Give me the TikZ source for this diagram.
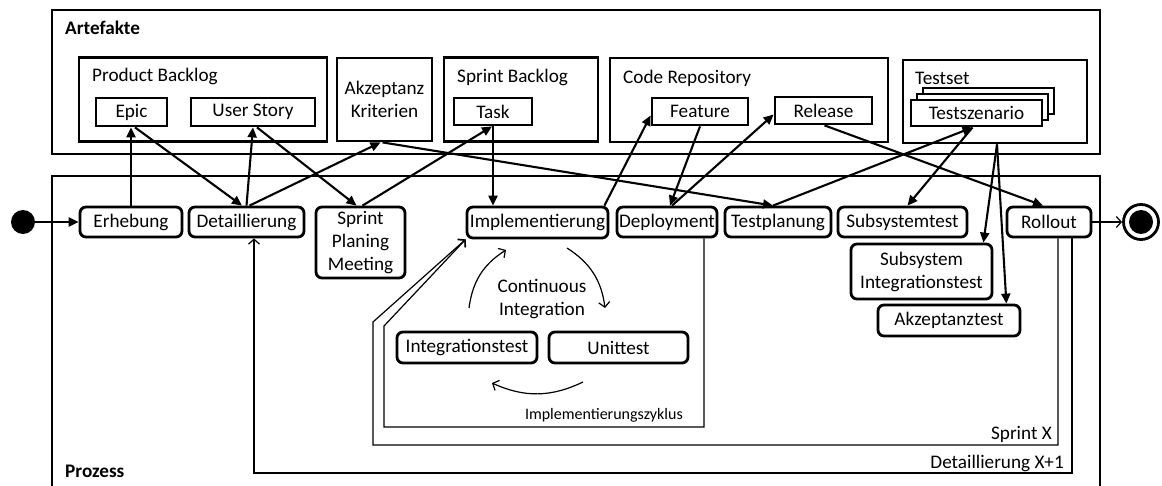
\documentclass[tikz,border=0pt]{standalone}
\usepackage{fontspec}
\setmainfont{Carlito}
\usetikzlibrary{arrows.meta,calc}
\begin{document}
\begin{tikzpicture}[x=1pt,y=-1pt,
  font=\fontsize{19.2}{23}\selectfont,
  frame/.style={draw,line width=2.8pt,inner sep=0pt},
  art/.style={draw,line width=2.8pt,fill=white,inner sep=0pt,align=center},
  act/.style={draw,line width=2.8pt,rounded corners=6pt,inner sep=0pt,align=center,fill=white},
  lbl/.style={anchor=west,inner sep=0pt},
  conn/.style={line width=2.1pt,-{Triangle[length=10pt,width=9pt]}},
  thinl/.style={line width=1.2pt},
  barb/.style={-{Straight Barb[length=5pt,width=11pt,line width=1.2pt]}},
]
\useasboundingbox (0,0) rectangle (1162,486);

% ---------- Artefakte ----------
\node[frame,minimum width=1048pt,minimum height=144pt] (artf) at (576,82) {};
\node[lbl,font=\fontsize{19.2}{23}\selectfont\bfseries] (artl) at (65,28) {Artefakte};

\node[frame,minimum width=248pt,minimum height=84pt] (pb) at (203,99.5) {};
\node[lbl] (pbl) at (92,76) {Product Backlog};
\node[art,minimum width=71pt,minimum height=28pt] (epic) at (131.5,112) {Epic};
\node[art,minimum width=124pt,minimum height=28pt] (us) at (253,112) {User Story};

\node[art,minimum width=95pt,minimum height=83pt] (akz) at (384.5,99.5) {Akzeptanz\\Kriterien};

\node[frame,minimum width=154pt,minimum height=84pt] (sb) at (521,99.5) {};
\node[lbl] (sbl) at (457,77) {Sprint Backlog};
\node[art,minimum width=78pt,minimum height=27pt] (task) at (493,111.5) {Task};

\node[frame,minimum width=278pt,minimum height=84pt] (cr) at (749,100) {};
\node[lbl] (crl) at (623,78) {Code Repository};
\node[art,minimum width=96pt,minimum height=27pt] (feat) at (700,111.5) {Feature};
\node[art,minimum width=97pt,minimum height=27pt] (rel) at (823.5,110.5) {Release};

\node[frame,minimum width=184pt,minimum height=83pt] (tset) at (995,101.5) {};
\node[lbl] (tsetl) at (915,78) {Testset};
\node[art,line width=2.3pt,minimum width=131pt,minimum height=26pt] (ts3) at (988.5,101) {};
\node[art,line width=2.3pt,minimum width=131pt,minimum height=26pt] (ts2) at (982.5,107) {};
\node[art,minimum width=131pt,minimum height=26pt] (ts) at (976.5,113) {Testszenario};

% ---------- Prozess ----------
\node[frame,minimum width=1048pt,minimum height=330pt] (proz) at (576,341) {};
\node[lbl,font=\fontsize{19.2}{23}\selectfont\bfseries] (prozl) at (65,471) {Prozess};

\node[circle,fill,minimum size=24pt,inner sep=0pt] (start) at (23,222) {};
\node[act,minimum width=102pt,minimum height=30pt] (erh) at (131,222) {Erhebung};
\node[act,minimum width=115pt,minimum height=30pt] (det) at (246.5,222) {Detaillierung};
\node[act,minimum width=89pt,minimum height=71pt] (spm) at (360.5,242.5) {Sprint\\Planing\\Meeting};
\node[act,minimum width=141pt,minimum height=31pt] (impl) at (537.5,222.5) {Implementierung};
\node[act,minimum width=100pt,minimum height=30pt] (dep) at (667,222) {Deployment};
\node[act,minimum width=106pt,minimum height=30pt] (tp) at (778,222) {Testplanung};
\node[act,minimum width=129pt,minimum height=30pt] (sub) at (902.5,222) {Subsystemtest};
\node[act,minimum width=84pt,minimum height=30pt] (roll) at (1049,222) {Rollout};
\node[act,minimum width=141pt,minimum height=55pt] (si) at (921.5,271.5) {Subsystem\\Integrationstest};
\node[act,minimum width=142pt,minimum height=31pt] (at) at (949,320.5) {Akzeptanztest};
\node[act,minimum width=140pt,minimum height=31pt] (it) at (467,347.5) {Integrationstest};
\node[act,minimum width=139pt,minimum height=31pt] (ut) at (618.5,347.5) {Unittest};

\node[circle,draw,line width=2.8pt,minimum size=35pt,inner sep=0pt] (end) at (1141,222) {};
\node[circle,fill,minimum size=24pt,inner sep=0pt] (endin) at (end.center) {};

\node[align=center,inner sep=0pt] (ci) at (542,299) {Continuous\\Integration};
\node[anchor=east,inner sep=0pt,font=\fontsize{16}{18}\selectfont] (izl) at (683,415) {Implementierungszyklus};
\node[anchor=east,inner sep=0pt] (sxl) at (1052,434) {Sprint X};
\node[anchor=east,inner sep=0pt] (dxl) at (1064,463) {Detaillierung X+1};

% ---------- connectors ----------
\draw[conn] (start) -- (erh);
\draw[conn] (erh.north) -- (erh.north |- epic.south);
\draw[conn] ([xshift=3.5pt]epic.south) -- ([xshift=-4.5pt]det.north);
\draw[conn] (det.north) -- (us.south);
\draw[conn] ([xshift=3pt]det.north) -- ([xshift=-4pt]akz.south);
\draw[conn] ([xshift=4pt]us.south) -- ([xshift=-4pt]spm.north);
\draw[conn] ([xshift=2pt]spm.north) -- ([xshift=-1pt]task.south);
\draw[conn] (task.south) -- (task.south |- impl.north);
\draw[conn] ([xshift=-2pt]akz.south) -- ([xshift=-5pt]tp.north);
\draw[conn] ([xshift=-5pt]impl.north east) -- ([yshift=-4pt]feat.west);
\draw[conn] (feat.south) -- ([xshift=3pt]dep.north);
\draw[conn] ([xshift=5pt]dep.north) -- ([yshift=-4pt]rel.west);
\draw[conn] ([xshift=1pt]rel.south) -- ([xshift=-6pt]roll.north);
\draw[conn] ([xshift=-5pt]tp.north) -- ([xshift=-4pt]ts.south);
\draw[conn] ([xshift=-4pt]ts.south) -- ([xshift=5pt]sub.north);
\draw[conn] ([xshift=2pt]tset.south) -- ([xshift=-10pt]si.north east);
\draw[conn] ([xshift=2pt]tset.south) -- ([xshift=-15pt]at.north east);

\draw[thinl,barb] (roll) -- (end);

% loops
\coordinate (rollA) at ([xshift=9pt]roll.south);
\coordinate (rollB) at ([xshift=23pt]roll.south);
\coordinate (depA) at ([xshift=37pt]dep.south);
\coordinate (detin) at ([xshift=7.5pt]det.south);
\coordinate (yb) at (0,473);
\draw[thinl,barb] (rollA) |- (373,445) -- (373,322) -- (impl.south west);
\draw[thinl,barb] (depA) |- (384,427) -- (384,326) -- (impl.south west);
\draw[thinl,barb] (rollB) |- (detin |- yb) -- (detin);

% CI arcs
\coordinate (a1) at (469,308); \coordinate (a2) at (506,250);
\coordinate (b1) at (567,248); \coordinate (b2) at (605,308);
\coordinate (c1) at (583,382); \coordinate (c2) at (492,383);
\draw[thinl,barb] (a1) to[bend left=25] (a2);
\draw[thinl,barb] (b1) to[bend left=25] (b2);
\draw[thinl,barb] (c1) to[bend left=25] (c2);
\end{tikzpicture}
\end{document}
